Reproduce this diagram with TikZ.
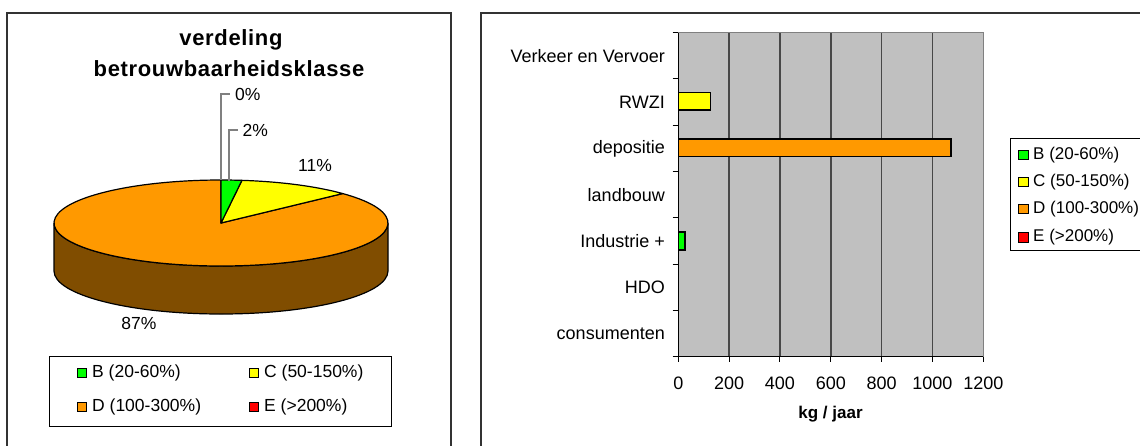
\documentclass[tikz,border=0pt]{standalone}
\usepackage{fontspec}
\usetikzlibrary{calc}
\setmainfont{Liberation Sans}
\newfontfamily\titlefont[LetterSpace=3]{Liberation Sans}
\begin{document}
\begin{tikzpicture}[x=1pt,y=-1pt,
  panel/.style={draw=black!80,line width=1.6pt},
  legendbox/.style={draw=black,line width=1pt},
  swatch/.style={draw=black,line width=0.9pt,minimum size=9.5pt,inner sep=0pt},
  lbl/.style={font=\fontsize{17.5}{20}\selectfont,inner sep=0pt},
  rlbl/.style={font=\fontsize{18}{21}\selectfont,inner sep=0pt},
  leglbl/.style={font=\fontsize{17}{20}\selectfont,inner sep=0pt},
  leader/.style={draw=black!50,line width=1.3pt},
  slice/.style={draw=black,line width=1.2pt,line join=round},
  bar/.style={draw=black,line width=1.6pt},
  grid/.style={draw=black!72,line width=1.6pt},
  tickline/.style={draw=black,line width=1pt}]
\definecolor{clB}{RGB}{0,255,0}
\definecolor{clC}{RGB}{255,255,0}
\definecolor{clD}{RGB}{255,153,0}
\definecolor{clE}{RGB}{255,0,0}
\definecolor{clSide}{RGB}{128,77,0}
\definecolor{clPlot}{RGB}{192,192,192}
\useasboundingbox (0,0) rectangle (1140,445);

% ---------- left panel: pie chart ----------
\draw[panel] (7,460) -- (7,13) -- (451,13) -- (451,460);
\node[font=\titlefont\bfseries\fontsize{22}{26}\selectfont,inner sep=0pt] (t1) at (231,40) {verdeling};
\node[font=\titlefont\bfseries\fontsize{22}{26}\selectfont,inner sep=0pt] (t2) at (229,69) {betrouwbaarheidsklasse};

% pie geometry: centre (221,223), radii 167 x 43, depth 48
\coordinate (pc) at (221,223);
% side wall
\filldraw[slice,fill=clSide] (54,223) -- (54,271)
  arc[start angle=180,end angle=0,x radius=167,y radius=43] -- (388,223)
  arc[start angle=0,end angle=180,x radius=167,y radius=43] -- cycle;
% top slices (angles run clockwise on the page)
\filldraw[slice,fill=clD] (pc) -- ($(pc)+(-43.2:167 and 43)$)
  arc[start angle=-43.2,end angle=270,x radius=167,y radius=43] -- cycle;
\filldraw[slice,fill=clC] (pc) -- ($(pc)+(-82.8:167 and 43)$)
  arc[start angle=-82.8,end angle=-43.2,x radius=167,y radius=43] -- cycle;
\filldraw[slice,fill=clB] (pc) -- (221,180)
  arc[start angle=-90,end angle=-82.8,x radius=167,y radius=43] -- cycle;

% slice labels
\coordinate (e0) at (221,180);
\coordinate (e2) at (229,180.5);
\node[lbl,anchor=west] (p0) at (235,94) {0\%};
\node[lbl,anchor=west] (p2) at (242.5,130) {2\%};
\node[lbl] (p11) at (315,165) {11\%};
\node[lbl] (p87) at (139,323) {87\%};
\draw[leader] (e0) |- ([xshift=-5pt]p0.west);
\draw[leader] (e2) |- ([xshift=-5pt]p2.west);

% legend
\draw[legendbox] (49,356) rectangle (391,426);
\node[swatch,fill=clB] (lb1) at (82,372.7) {};
\node[lbl,anchor=west] (lt1) at (92,372.7) {B (20-60\%)};
\node[swatch,fill=clC] (lb2) at (253.8,372.7) {};
\node[lbl,anchor=west] (lt2) at (264,372.7) {C (50-150\%)};
\node[swatch,fill=clD] (lb3) at (82,406.7) {};
\node[lbl,anchor=west] (lt3) at (92,406.7) {D (100-300\%)};
\node[swatch,fill=clE] (lb4) at (253.8,406.7) {};
\node[lbl,anchor=west] (lt4) at (264,406.7) {E (>200\%)};

% ---------- right panel: bar chart ----------
\draw[panel] (480.7,460) -- (480.7,13) -- (1150,13);
% plot area 0..1200 kg/jaar mapped to x 678.3..983.3
\fill[clPlot] (678.3,32.7) rectangle (983.3,356.7);
\foreach \v in {200,400,...,1000}
  \draw[grid] ({678.3+\v*0.25417},32.7) -- ({678.3+\v*0.25417},356.7);
\draw[draw=black!50,line width=1.3pt] (678.3,32.7) -- (983.3,32.7) -- (983.3,356.7);
% axes and tick marks
\draw[tickline] (678.3,32.7) -- (678.3,356.7) -- (983.3,356.7);
\foreach \i in {0,...,7}
  \draw[tickline] (672.5,{32.7+\i*46.286}) -- (678.3,{32.7+\i*46.286});
\foreach \v in {0,200,...,1200}
  \draw[tickline] ({678.3+\v*0.25417},356.7) -- ({678.3+\v*0.25417},362);

% bars
\draw[bar,fill=clC] (678.3,92.6) rectangle ({678.3+127*0.25417},110.2);
\draw[bar,fill=clD] (678.3,138.8) rectangle ({678.3+1073*0.25417},156.4);
\draw[bar,fill=clB] (678.3,232.2) rectangle ({678.3+26*0.25417},249.8);

% category labels
\node[rlbl,anchor=east] (c1) at (665,55.8) {Verkeer en Vervoer};
\node[rlbl,anchor=east] (c2) at (665,102.1) {RWZI};
\node[rlbl,anchor=east] (c3) at (665,148.4) {depositie};
\node[rlbl,anchor=east] (c4) at (665,194.7) {landbouw};
\node[rlbl,anchor=east] (c5) at (665,241.0) {Industrie +};
\node[rlbl,anchor=east] (c6) at (665,287.3) {HDO};
\node[rlbl,anchor=east] (c7) at (665,333.6) {consumenten};

% value axis labels
\foreach \v in {0,200,...,1200}
  \node[rlbl] (x\v) at ({678.3+\v*0.25417},383) {\v};
\node[font=\bfseries\fontsize{17}{20}\selectfont,inner sep=0pt] (xt) at (830.5,414) {kg / jaar};

% legend
\draw[legendbox] (1150,138.3) -- (1010.7,138.3) -- (1010.7,250) -- (1150,250);
\node[swatch,fill=clB] (rb1) at (1023.5,155) {};
\node[leglbl,anchor=west] (rt1) at (1033,155) {B (20-60\%)};
\node[swatch,fill=clC] (rb2) at (1023.5,181.7) {};
\node[leglbl,anchor=west] (rt2) at (1033,181.7) {C (50-150\%)};
\node[swatch,fill=clD] (rb3) at (1023.5,209) {};
\node[leglbl,anchor=west] (rt3) at (1033,209) {D (100-300\%)};
\node[swatch,fill=clE] (rb4) at (1023.5,237.3) {};
\node[leglbl,anchor=west] (rt4) at (1033,237.3) {E (>200\%)};
\end{tikzpicture}
\end{document}
